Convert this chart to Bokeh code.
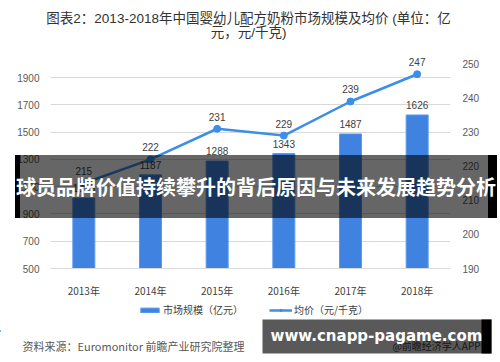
from bokeh.plotting import figure
from bokeh.models import (ColumnDataSource, FactorRange, Range1d, LinearAxis, FixedTicker,
                          LabelSet, Label, BoxAnnotation, Legend, LegendItem, Div)
from bokeh.core.properties import value
from bokeh.embed import file_html
from bokeh.resources import INLINE

years = ["2013年", "2014年", "2015年", "2016年", "2017年", "2018年"]
market = [1018, 1187, 1288, 1343, 1487, 1626]
price = [215, 222, 231, 229, 239, 247]
left_ticks = [500, 700, 900, 1100, 1300, 1500, 1700, 1900]
right_ticks = [190, 200, 210, 220, 230, 240, 250]
title_lines = ["图表2：2013-2018年中国婴幼儿配方奶粉市场规模及均价 (单位：亿", "元，元/千克)"]

FONT = "'Liberation Sans', 'Noto Sans CJK SC', sans-serif"
CJK = "'Noto Sans CJK SC', sans-serif"
BAR = "#3F82E0"
BAR_EDGE = "#5A9AEE"
LINE = "#3B8FE6"
TXT = "#404040"


def strip(top, height):
    f = figure(width=500, height=height, x_range=Range1d(0, 500),
               y_range=Range1d(top + height, top),
               x_axis_location=None, y_axis_location=None, min_border=0,
               min_border_left=0, min_border_right=0, min_border_top=0, min_border_bottom=0,
               output_backend="svg", toolbar_location=None, outline_line_color=None,
               background_fill_alpha=0, border_fill_alpha=0,
               styles={"position": "absolute", "left": "0px", "top": f"{top}px"})
    f.xgrid.grid_line_color = None
    f.ygrid.grid_line_color = None
    return f


src = ColumnDataSource(dict(x=years, m=market, p=price,
                            ml=[str(v) for v in market], pl=[str(v) for v in price]))

# ---------------- main chart ----------------
p = figure(x_range=FactorRange(*years), y_range=Range1d(500, 500 + 229 / 0.14),
           width=500, height=300, min_border_left=50, min_border_right=50,
           min_border_top=45, min_border_bottom=26,
           output_backend="svg", toolbar_location=None, outline_line_color=None)
p.extra_y_ranges = {"price": Range1d(190, 190 + 229 / 3.5)}

bars = p.vbar(x="x", top="m", bottom=500, width=0.33, source=src, fill_color=BAR,
              line_color=BAR_EDGE, line_width=1)
ln = p.line(x="x", y="p", source=src, y_range_name="price", line_color=LINE, line_width=2.5)
pts = p.scatter(x="x", y="p", source=src, y_range_name="price", size=7,
                fill_color=LINE, line_color=LINE)

p.add_layout(LabelSet(x="x", y="m", text="ml", source=src, text_align="center",
                      text_baseline="bottom", y_offset=6, text_font_size="10px",
                      text_color=TXT, text_font=value(FONT)))
p.add_layout(LabelSet(x="x", y="p", text="pl", source=src, y_range_name="price",
                      text_align="center", text_baseline="bottom", y_offset=8,
                      text_font_size="10px", text_color=TXT, text_font=value(FONT)))

p.yaxis.ticker = FixedTicker(ticks=left_ticks)
ra = LinearAxis(y_range_name="price", ticker=FixedTicker(ticks=right_ticks))
p.add_layout(ra, "right")
for ax in (p.yaxis[0], ra):
    ax.axis_line_color = None
    ax.major_tick_line_color = None
    ax.minor_tick_line_color = None
    ax.major_label_text_font_size = "10px"
    ax.major_label_text_color = "#595959"
    ax.major_label_text_font = FONT
p.yaxis[0].major_label_standoff = 5
ra.major_label_standoff = 6
p.xaxis.axis_line_color = "#D9D9D9"
p.xaxis.major_tick_line_color = None
p.xaxis.major_label_text_font_size = "10px"
p.xaxis.major_label_text_color = TXT
p.xaxis.major_label_text_font = CJK
p.xaxis.major_label_standoff = 8
p.xgrid.grid_line_color = None
p.ygrid.grid_line_color = "#D9D9D9"
p.ygrid.ticker = FixedTicker(ticks=left_ticks)

# ---------------- title strip ----------------
t = strip(0, 45)
for txt, yy in zip(title_lines, [18, 32]):
    t.add_layout(Label(x=248, y=yy, text=txt, text_align="center", text_baseline="middle",
                       text_font_size="13.5px", text_font=FONT, text_color="#333333"))

# ---------------- bottom strip (legend, source, watermark box) ----------------
q = strip(300, 62)
dummy = ColumnDataSource(dict(x=[-100, -90], y=[330, 330]))
qb = q.vbar(x="x", top="y", bottom=331, width=1, source=dummy, fill_color=BAR,
            line_color=BAR_EDGE)
ql = q.line(x="x", y="y", source=dummy, line_color=LINE, line_width=2.5)
qs = q.scatter(x="x", y="y", source=dummy, size=6, fill_color=LINE, line_color=LINE)

leg = Legend(items=[LegendItem(label="市场规模（亿元）", renderers=[qb]),
                    LegendItem(label="均价（元/千克）", renderers=[ql, qs])],
             orientation="horizontal", location=(138, 45), border_line_color=None,
             background_fill_alpha=0, label_text_font_size="10px", label_text_font=CJK,
             label_text_color=TXT, glyph_width=23, glyph_height=6, spacing=26,
             margin=0, padding=0, label_standoff=2, label_height=12)
q.add_layout(leg)

q.add_layout(Label(x=22, y=345, text="资料来源：Euromonitor 前瞻产业研究院整理",
                   text_align="left", text_baseline="middle", text_font_size="11px",
                   text_font=CJK, text_color="#595959"))
q.add_layout(Label(x=436, y=345, text="@前瞻经济学人APP", text_align="center",
                   text_baseline="middle", text_font_size="10px", text_font=CJK,
                   text_color="#444444"))
q.add_layout(BoxAnnotation(left=262, right=491, top=319, bottom=353,
                           fill_color="black", fill_alpha=0.65, line_color=None))
q.add_layout(BoxAnnotation(left=481, right=491, top=319, bottom=353,
                           fill_color="black", fill_alpha=1, line_color=None))
q.add_layout(Label(x=376, y=335, text="www.cnapp-pagame.com", text_align="center",
                   text_baseline="middle", text_font_size="15px",
                   text_font="'DejaVu Sans', sans-serif", text_font_style="bold",
                   text_color="white"))

# ---------------- banner overlay ----------------
banner = Div(text="球员品牌价值持续攀升的背后原因与未来发展趋势分析", width=482, height=63,
             styles={"position": "absolute", "left": "10px", "top": "150px",
                     "background-color": "rgba(0,0,0,0.6)",
                     "box-shadow": "inset 5px 0 0 #000, inset -9px 0 0 #000",
                     "color": "white", "font-family": "'Noto Sans CJK SC', sans-serif",
                     "font-weight": "bold", "font-size": "20px", "line-height": "63px",
                     "text-align": "center", "white-space": "nowrap", "z-index": "10",
                     "overflow": "visible"})

open("out.html", "w").write(file_html([p, t, q, banner], INLINE))
